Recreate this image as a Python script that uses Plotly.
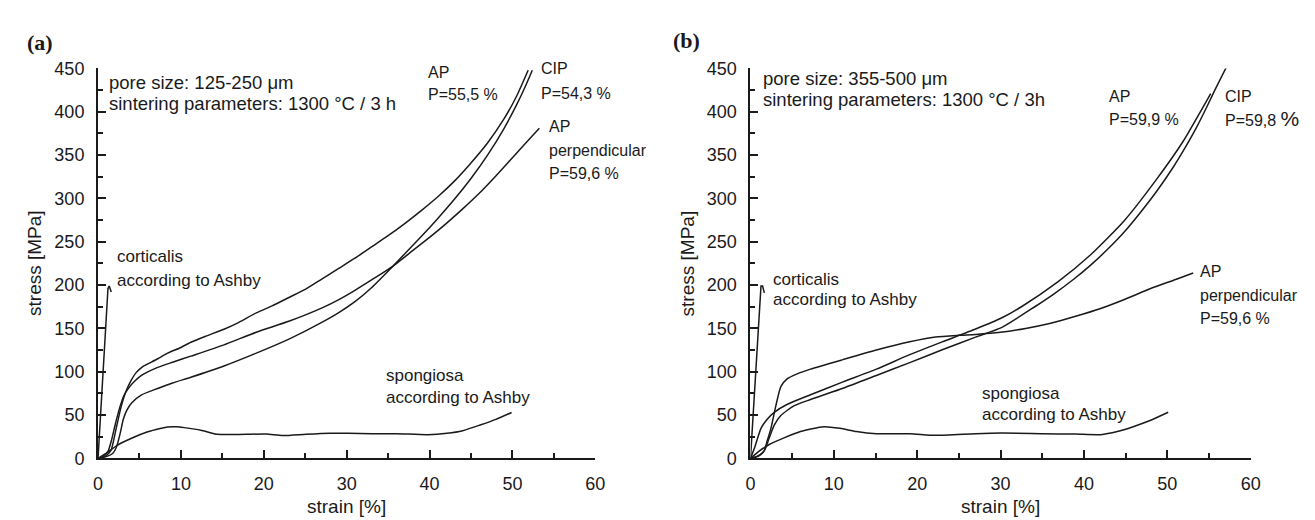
import plotly.graph_objects as go

# ---------------- data (strain [%], stress [MPa]) ----------------
# Panel (a): pore size 125-250 um
a_cort_strain = [0, 1.2, 1.35, 1.6]
a_cort_stress = [0, 196, 199, 192]

a_ap_strain = [0, 0.8, 1.3, 1.6, 2.2, 2.8, 3.4, 4.0, 4.6, 5.4, 6.2, 7.2, 8.4, 10, 11.2, 13, 15.2, 17, 19.1,
               21, 23.1, 25, 27, 29, 31, 33, 35, 37, 39, 41, 43, 45, 47, 49, 50.5, 51.9]
a_ap_stress = [0, 2, 6, 10, 35, 60, 78, 90, 99, 106, 110, 115, 121.5, 128, 134, 141, 149, 157, 168,
               176, 186, 195, 207, 219, 231, 244, 257, 271, 286, 302, 320, 341, 364, 392, 418, 448]

a_perp_strain = [0, 0.7, 1.2, 1.6, 2.1, 2.6, 3.1, 3.6, 4.2, 5.2, 7.2, 9, 11.2, 15.2, 19.1, 23.1, 27.1, 29,
                 31, 33, 35.6, 38, 40, 42, 44, 46, 48, 50, 52, 53.25]
a_perp_stress = [0, 3, 8, 20, 40, 58, 72, 80, 87, 95.5, 105, 111, 118, 131, 145.6, 158.5, 174, 183,
                 194, 206, 222, 240, 255, 271, 288, 306, 326, 347, 368, 381]

a_cip_strain = [0, 1.0, 1.8, 2.26, 2.7, 3.06, 3.5, 4.05, 5.2, 7.2, 9, 11.2, 15.2, 19.1, 23.1, 27,
                29, 31, 33, 35.6, 37, 39, 41, 43, 45, 47, 49, 50.5, 51.5, 52.4]
a_cip_stress = [0, 2, 6, 14, 30, 45.5, 56, 64, 73, 80.7, 87, 93.7, 106.7, 121.5, 138, 157,
                168, 181, 197, 222, 236, 256, 277, 299, 323, 350, 381, 408, 428, 448]

a_spon_strain = [0, 1, 2.26, 4.05, 6, 7.5, 8.4, 9.5, 10.4, 12.4, 14.4, 16, 17.9, 20.3, 22.3, 25.1, 28,
                 30.2, 33, 36, 39.8, 42.1, 44, 46.1, 48, 49.9]
a_spon_stress = [0, 6, 14.8, 23.3, 30.7, 34.5, 36.3, 36.5, 35.5, 32.6, 27.8, 27.5, 27.8, 28.1, 26.3, 27.8, 29,
                 29, 28.5, 28.5, 27.4, 29, 32, 38.5, 45, 53]

# Panel (b): pore size 355-500 um
b_cort_strain = [0, 1.26, 1.45, 1.66]
b_cort_stress = [0, 199, 199, 191]

b_ap_strain = [0, 0.5, 1.26, 2.06, 2.85, 4.43, 7.2, 11.1, 15.1, 19.1, 23, 27, 30.1, 32.5, 36.9,
               40.8, 44.8, 48.7, 51.9, 54.2, 55.2]
b_ap_stress = [0, 12.6, 34.7, 45.8, 53.2, 62.5, 73.5, 88.3, 103, 119.7, 134.5, 149.3, 162, 175, 204,
               235, 274, 322, 366, 404, 421]

b_cip_strain = [0, 0.8, 1.66, 2.25, 2.85, 3.64, 5.2, 7.2, 11.1, 15.1, 19.1, 23, 27, 30.1, 34.1, 36.5,
                38.8, 40.8, 42.8, 44.8, 46.7, 48.7, 50.7, 52.1, 53.5, 54.7, 55.8, 57.1]
b_cip_stress = [0, 2, 8.9, 23.7, 38.4, 49.5, 60.6, 68, 81, 95.7, 110.5, 125.3, 140, 151, 175, 190.5,
                207, 223, 241, 261, 283, 308, 336, 358, 382, 405, 427, 452]

b_perp_strain = [0, 1, 1.6, 2.0, 2.45, 3.04, 3.64, 4.43, 5.6, 7.2, 11.1, 15.1, 19.1, 22.2, 25, 27, 30,
                 33, 36, 39, 42, 45, 48, 51, 53.1]
b_perp_stress = [0, 3, 8, 20, 34.7, 60.6, 82.8, 92, 97.6, 103, 114, 125, 134.5, 140, 142, 143, 145.5,
                 150, 156, 164, 173, 184, 196, 206.5, 214]

b_spon_strain = [0, 1, 2.25, 4.03, 6, 8.8, 10.75, 12.7, 15.1, 19.1, 22.2, 27, 30.1, 35, 39, 42, 44,
                 45.9, 48, 50.1]
b_spon_stress = [0, 8, 16, 23.7, 31, 36.6, 34.7, 31, 28.5, 28.5, 26.6, 28.5, 29.2, 28.5, 28, 27.4, 31,
                 36.6, 44, 53.2]

x_ticks = [0, 10, 20, 30, 40, 50, 60]
y_ticks = [0, 50, 100, 150, 200, 250, 300, 350, 400, 450]

# ---------------- layout helpers ----------------
W, H = 1315, 520
def px(x):
    return x / W
def py(y):
    return 1 - y / H

FONT = "Liberation Sans, Arial, sans-serif"
INK = "#1a1a1a"

fig = go.Figure()

def add_line(xs, ys, xa, ya, smooth=True):
    fig.add_trace(go.Scatter(
        x=xs, y=ys, xaxis=xa, yaxis=ya, mode="lines",
        line=dict(color=INK, width=1.5, shape="spline" if smooth else "linear", smoothing=0.6),
        showlegend=False, hoverinfo="skip", cliponaxis=False))

add_line(a_cort_strain, a_cort_stress, "x", "y", smooth=False)
add_line(a_ap_strain, a_ap_stress, "x", "y")
add_line(a_perp_strain, a_perp_stress, "x", "y")
add_line(a_cip_strain, a_cip_stress, "x", "y")
add_line(a_spon_strain, a_spon_stress, "x", "y")

add_line(b_cort_strain, b_cort_stress, "x2", "y2", smooth=False)
add_line(b_ap_strain, b_ap_stress, "x2", "y2")
add_line(b_cip_strain, b_cip_stress, "x2", "y2")
add_line(b_perp_strain, b_perp_stress, "x2", "y2")
add_line(b_spon_strain, b_spon_stress, "x2", "y2")

def xaxis_cfg(dom):
    return dict(domain=dom, range=[0, 60], tickvals=x_ticks, ticktext=[str(v) for v in x_ticks],
                ticks="inside", ticklen=8, tickwidth=1.5, tickcolor=INK,
                minor=dict(dtick=5, tick0=0, ticks="inside", ticklen=5, tickwidth=1.5, tickcolor=INK),
                showline=True, linewidth=2, linecolor=INK, showgrid=False, zeroline=False,
                ticklabelstandoff=8, tickfont=dict(family=FONT, size=18, color=INK))

def yaxis_cfg(anchor):
    return dict(domain=[py(458), py(52.5)], range=[0, 450], anchor=anchor,
                tickvals=y_ticks, ticktext=[str(v) for v in y_ticks],
                ticks="inside", ticklen=8, tickwidth=1.5, tickcolor=INK,
                minor=dict(dtick=25, tick0=0, ticks="inside", ticklen=5, tickwidth=1.5, tickcolor=INK),
                showline=True, linewidth=2, linecolor=INK, showgrid=False, zeroline=False,
                ticklabelstandoff=8, tickfont=dict(family=FONT, size=18, color=INK))

fig.update_layout(
    width=W, height=H,
    margin=dict(l=0, r=0, t=0, b=0),
    paper_bgcolor="white", plot_bgcolor="white",
    xaxis=dict(**xaxis_cfg([px(86), px(589)]), anchor="y"),
    yaxis=yaxis_cfg("x"),
    xaxis2=dict(**xaxis_cfg([px(746), px(1252)]), anchor="y2"),
    yaxis2=yaxis_cfg("x2"),
)

annots = []
def txt(text, x, y, size=16, family=FONT, anchor="left", angle=0):
    annots.append(dict(text=text, x=px(x), y=py(y), xref="paper", yref="paper",
                       xanchor=anchor, yanchor="middle", showarrow=False, textangle=angle,
                       font=dict(family=family, size=size, color=INK)))

SERIF = "Liberation Serif, Times New Roman, serif"
# panel labels
txt("<b>(a)</b>", 12, 25, size=22, family=SERIF)
txt("<b>(b)</b>", 666, 23, size=22, family=SERIF)

# axis titles
for cx in (337, 999):
    txt("strain [%]", cx, 508, size=19, anchor="center")
for cx in (21, 682):
    txt("stress [MPa]", cx, 255, size=19, anchor="center", angle=-90)

# panel (a) texts
txt("pore size: 125-250 μm", 95, 67, size=18.5)
txt("sintering parameters: 1300 °C / 3 h", 95, 89, size=18.5)
txt("AP", 418, 57)
txt("P=55,5 %", 418, 80)
txt("CIP", 532, 53)
txt("P=54,3 %", 532, 78)
txt("AP", 540, 113)
txt("perpendicular", 540, 138)
txt("P=59,6 %", 540, 162)
txt("corticalis", 103, 248, size=17)
txt("according to Ashby", 103, 273, size=17)
txt("spongiosa", 375, 372, size=17)
txt("according to Ashby", 375, 395, size=17)

# panel (b) texts
txt("pore size: 355-500 μm", 757, 63, size=18.5)
txt("sintering parameters: 1300 °C / 3h", 757, 85, size=18.5)
txt("AP", 1107, 82)
txt("P=59,9 %", 1107, 106)
txt("CIP", 1224, 82)
txt("P=59,8 <span style='font-size:21px'>%</span>", 1224, 105)
txt("AP", 1199, 264)
txt("perpendicular", 1199, 289)
txt("P=59,6 %", 1199, 313)
txt("corticalis", 767, 272, size=17)
txt("according to Ashby", 767, 293, size=17)
txt("spongiosa", 978, 390, size=17)
txt("according to Ashby", 978, 412, size=17)

fig.update_layout(annotations=annots)

fig.write_html("out.html")
